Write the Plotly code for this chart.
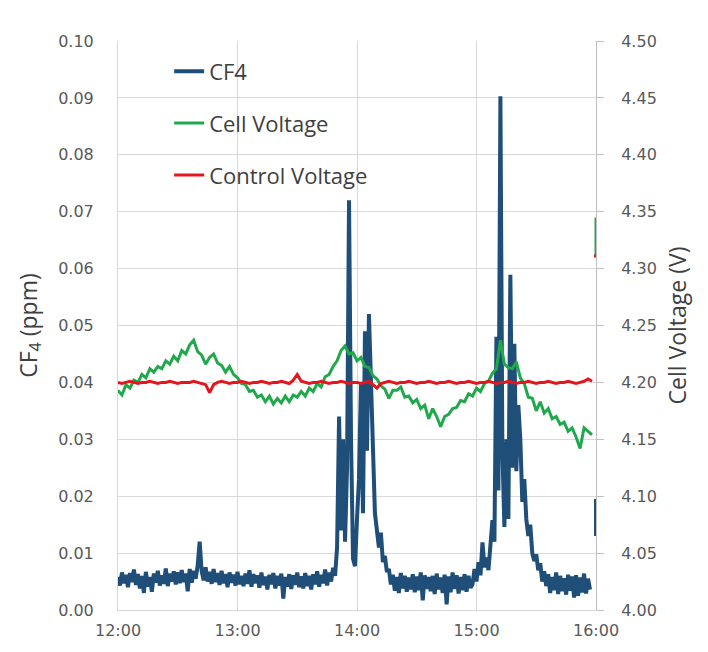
import plotly.graph_objects as go

# ---- data -----------------------------------------------------------------
# CF4 concentration (ppm), one reading per minute from 12:00 (minute 0)
cf4_ppm = [
    0.0058, 0.0043, 0.0066, 0.0047, 0.0062, 0.0040, 0.0065, 0.0049, 0.0071, 0.0044,
    0.0063, 0.0038, 0.0060, 0.0030, 0.0067, 0.0041, 0.0058, 0.0032, 0.0064, 0.0048,
    0.0069, 0.0043, 0.0061, 0.0046, 0.0073, 0.0042, 0.0064, 0.0050, 0.0068, 0.0045,
    0.0066, 0.0047, 0.0070, 0.0049, 0.0064, 0.0033, 0.0072, 0.0048, 0.0069, 0.0055,
    0.0078, 0.0120, 0.0068, 0.0052, 0.0075, 0.0050, 0.0067, 0.0046, 0.0072, 0.0049,
    0.0065, 0.0044, 0.0069, 0.0047, 0.0063, 0.0040, 0.0066, 0.0048, 0.0062, 0.0043,
    0.0067, 0.0045, 0.0060, 0.0042, 0.0064, 0.0046, 0.0070, 0.0041, 0.0063, 0.0047,
    0.0061, 0.0039, 0.0066, 0.0044, 0.0059, 0.0036, 0.0062, 0.0045, 0.0065, 0.0038,
    0.0060, 0.0043, 0.0064, 0.0020, 0.0058, 0.0041, 0.0063, 0.0037, 0.0061, 0.0044,
    0.0066, 0.0040, 0.0059, 0.0038, 0.0065, 0.0042, 0.0060, 0.0036, 0.0063, 0.0045,
    0.0068, 0.0041, 0.0062, 0.0047, 0.0071, 0.0043, 0.0066, 0.0050, 0.0074, 0.0060,
    0.0110, 0.0340, 0.0140, 0.0300, 0.0120, 0.0250, 0.0720, 0.0300, 0.0090, 0.0077,
    0.0160, 0.0230, 0.0400, 0.0170, 0.0490, 0.0280, 0.0520, 0.0380, 0.0270, 0.0170,
    0.0140, 0.0110, 0.0136, 0.0084, 0.0095, 0.0067, 0.0072, 0.0045, 0.0062, 0.0034,
    0.0058, 0.0030, 0.0065, 0.0038, 0.0060, 0.0032, 0.0057, 0.0036, 0.0063, 0.0031,
    0.0059, 0.0035, 0.0066, 0.0017, 0.0061, 0.0037, 0.0058, 0.0033, 0.0060, 0.0028,
    0.0064, 0.0036, 0.0057, 0.0030, 0.0062, 0.0010, 0.0059, 0.0031, 0.0066, 0.0037,
    0.0061, 0.0029, 0.0058, 0.0035, 0.0063, 0.0032, 0.0060, 0.0039, 0.0045, 0.0072,
    0.0050, 0.0084, 0.0061, 0.0119, 0.0075, 0.0092, 0.0070, 0.0110, 0.0158, 0.0120,
    0.0480, 0.0210, 0.0903, 0.0280, 0.0146, 0.0300, 0.0160, 0.0589, 0.0250, 0.0468,
    0.0244, 0.0360, 0.0300, 0.0190, 0.0230, 0.0160, 0.0130, 0.0150, 0.0100, 0.0086,
    0.0098, 0.0070, 0.0082, 0.0050, 0.0068, 0.0042, 0.0063, 0.0030, 0.0058, 0.0035,
    0.0066, 0.0028, 0.0060, 0.0033, 0.0056, 0.0027, 0.0062, 0.0034, 0.0059, 0.0022,
    0.0061, 0.0025, 0.0057, 0.0031, 0.0064, 0.0029, 0.0055, 0.0036,
]

# Cell voltage (V), one reading every two minutes from 12:00
cell_voltage = [
    4.193, 4.189, 4.198, 4.195, 4.202, 4.200, 4.207, 4.204, 4.212, 4.209,
    4.214, 4.212, 4.219, 4.216, 4.223, 4.219, 4.228, 4.225, 4.233, 4.237,
    4.227, 4.224, 4.216, 4.222, 4.225, 4.217, 4.215, 4.209, 4.214, 4.207,
    4.204, 4.199, 4.198, 4.192, 4.193, 4.187, 4.189, 4.183, 4.188, 4.181,
    4.186, 4.182, 4.188, 4.183, 4.189, 4.187, 4.192, 4.188, 4.195, 4.192,
    4.199, 4.196, 4.205, 4.207, 4.214, 4.219, 4.228, 4.232, 4.225, 4.226,
    4.219, 4.222, 4.214, 4.213, 4.206, 4.203, 4.197, 4.194, 4.186, 4.193,
    4.193, 4.196, 4.187, 4.188, 4.182, 4.185, 4.177, 4.180, 4.168, 4.177,
    4.170, 4.161, 4.170, 4.172, 4.177, 4.178, 4.184, 4.183, 4.190, 4.188,
    4.195, 4.192, 4.199, 4.201, 4.208, 4.212, 4.237, 4.216, 4.213, 4.212,
    4.218, 4.204, 4.199, 4.187, 4.186, 4.175, 4.183, 4.173, 4.177, 4.168,
    4.170, 4.163, 4.165, 4.157, 4.160, 4.152, 4.142, 4.160, 4.157, 4.154,
]

# Control voltage (V), same two-minute sampling
control_voltage = [
    4.200, 4.199, 4.200, 4.201, 4.200, 4.199, 4.200, 4.200, 4.201, 4.200,
    4.199, 4.200, 4.200, 4.201, 4.200, 4.199, 4.200, 4.200, 4.200, 4.201,
    4.200, 4.199, 4.198, 4.191, 4.198, 4.200, 4.201, 4.200, 4.199, 4.200,
    4.200, 4.201, 4.200, 4.199, 4.200, 4.200, 4.201, 4.200, 4.199, 4.200,
    4.200, 4.201, 4.200, 4.199, 4.202, 4.207, 4.201, 4.200, 4.199, 4.200,
    4.200, 4.201, 4.200, 4.199, 4.200, 4.200, 4.201, 4.200, 4.199, 4.200,
    4.200, 4.199, 4.200, 4.201, 4.198, 4.195, 4.199, 4.200, 4.201, 4.200,
    4.199, 4.200, 4.200, 4.201, 4.200, 4.199, 4.200, 4.200, 4.201, 4.200,
    4.199, 4.200, 4.200, 4.201, 4.200, 4.199, 4.200, 4.200, 4.201, 4.200,
    4.199, 4.200, 4.200, 4.201, 4.200, 4.199, 4.200, 4.200, 4.201, 4.200,
    4.199, 4.200, 4.200, 4.201, 4.200, 4.199, 4.200, 4.200, 4.201, 4.200,
    4.199, 4.200, 4.200, 4.201, 4.200, 4.199, 4.200, 4.201, 4.203, 4.201,
]

# Short stubs logged right at the 16:00 boundary
cf4_edge_minutes = [240, 240]
cf4_edge_ppm = [0.0130, 0.0195]
cell_edge_minutes = [240, 240]
cell_edge_voltage = [4.312, 4.345]
control_edge_minutes = [239, 240]
control_edge_voltage = [4.311, 4.311]

hour_ticks = [12, 13, 14, 15, 16]
hour_labels = ["12:00", "13:00", "14:00", "15:00", "16:00"]
cf4_ticks = [i / 100 for i in range(11)]
volt_ticks = [4.00, 4.05, 4.10, 4.15, 4.20, 4.25, 4.30, 4.35, 4.40, 4.45, 4.50]

# ---- helpers --------------------------------------------------------------
def hours(minutes):
    return [12 + m / 60 for m in minutes]

def with_edge(minutes, values, edge_minutes, edge_values):
    xs = hours(minutes) + [hours(edge_minutes)[0]] + hours(edge_minutes)
    ys = list(values) + [None] + list(edge_values)
    return xs, ys

cf4_min = list(range(len(cf4_ppm)))
volt_min = [2 * i for i in range(len(cell_voltage))]

cf4_x, cf4_y = with_edge(cf4_min, cf4_ppm, cf4_edge_minutes, cf4_edge_ppm)
cell_x, cell_y = with_edge(volt_min, cell_voltage, cell_edge_minutes, cell_edge_voltage)
ctrl_x, ctrl_y = with_edge(volt_min, control_voltage, control_edge_minutes, control_edge_voltage)

NAVY = "#1f4e79"
GREEN = "#22a84c"
RED = "#e3161d"
TICK_GREY = "#595959"
TITLE_GREY = "#404040"
GRID = "#d9d9d9"

fig = go.Figure()
fig.add_trace(go.Scatter(
    x=cf4_x, y=cf4_y, name="CF4", mode="lines",
    line=dict(color=NAVY, width=4), connectgaps=False,
    yaxis="y", legend="legend",
))
fig.add_trace(go.Scatter(
    x=cell_x, y=cell_y, name="Cell Voltage", mode="lines",
    line=dict(color=GREEN, width=3), connectgaps=False,
    yaxis="y2", legend="legend2",
))
fig.add_trace(go.Scatter(
    x=ctrl_x, y=ctrl_y, name="Control Voltage", mode="lines",
    line=dict(color=RED, width=3), connectgaps=False,
    yaxis="y2", legend="legend3",
))

tick_font = dict(family="DejaVu Sans", size=16, color=TICK_GREY)
legend_font = dict(family="Open Sans", size=22, color=TITLE_GREY)

def legend_at(y):
    return dict(x=0.107, y=y, xanchor="left", yanchor="middle",
                bgcolor="rgba(0,0,0,0)", borderwidth=0, font=legend_font)

fig.update_layout(
    width=708, height=652,
    margin=dict(l=118, r=112, t=41, b=30),
    paper_bgcolor="white", plot_bgcolor="white",
    showlegend=True,
    legend=legend_at(0.9466),
    legend2=legend_at(0.8554),
    legend3=legend_at(0.7642),
    xaxis=dict(
        range=[12, 16], tickvals=hour_ticks, ticktext=hour_labels,
        showgrid=True, gridcolor=GRID, gridwidth=1,
        showline=True, linecolor=GRID, linewidth=1,
        zeroline=False, ticks="", tickfont=tick_font, ticklabelstandoff=6,
    ),
    yaxis=dict(
        range=[0, 0.1], tickvals=cf4_ticks, tickformat=".2f",
        showgrid=True, gridcolor=GRID, gridwidth=1,
        showline=True, linecolor=GRID, linewidth=1,
        zeroline=False, ticks="", tickfont=tick_font, ticklabelstandoff=20,
        title=dict(text="CF<sub>4</sub> (ppm)", standoff=14,
                   font=dict(family="Open Sans", size=23, color=TITLE_GREY)),
    ),
    yaxis2=dict(
        range=[4.0, 4.5], tickvals=volt_ticks, tickformat=".2f",
        overlaying="y", side="right", anchor="x",
        showgrid=False, zeroline=False,
        showline=True, linecolor="#bfbfbf", linewidth=1,
        ticks="outside", ticklen=7, tickcolor="#bfbfbf",
        tickfont=tick_font, ticklabelstandoff=14,
        title=dict(text="Cell Voltage (V)", standoff=14,
                   font=dict(family="Open Sans", size=23, color=TITLE_GREY)),
    ),
)

fig.write_html("out.html")
